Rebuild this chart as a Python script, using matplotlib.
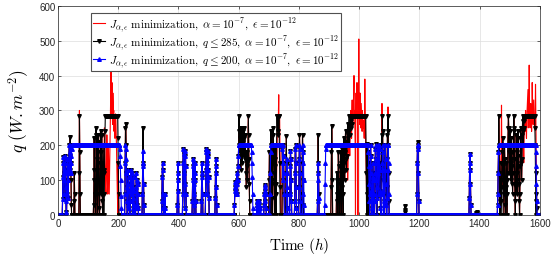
import numpy as np
import matplotlib
matplotlib.use("Agg")
import matplotlib.pyplot as plt

plt.rcParams['mathtext.fontset'] = 'cm'
plt.rcParams['font.family'] = ['Liberation Sans', 'DejaVu Sans']

# hourly time axis
hours = np.arange(0, 1601)

# spikes shared by all three solutions: (start hour, hourly values)
common_bursts = [
    (345, [40, 110, 150, 130, 60, 20, 0, 0, 0, 0, 60, 20]),
    (396, [30, 100, 150, 120, 70]),
    (414, [60, 150, 190, 175, 120, 60, 20, 90, 170, 185, 140, 60]),
    (446, [40, 100, 160, 140, 90, 30, 0, 60, 120, 150, 100, 40]),
    (476, [40, 110, 150, 120, 60]),
    (490, [60, 130, 180, 190, 150, 100, 60, 130, 185, 170, 110, 50]),
    (522, [50, 120, 160, 140, 80, 30]),
    (660, [20, 40, 30, 10, 40, 35, 15, 0, 30, 40, 20]),
    (684, [30, 60, 85, 70, 40, 80, 60, 20]),
    (770, [60, 140, 185, 160, 100, 40]),
    (862, [40, 100, 150, 120, 50]),
    (1366, [50, 130, 176, 150, 90, 30]),
]

# q <= 200 solution
blue_plateaus = [(48, 204, 200), (601, 642, 200), (707, 744, 200),
                 (890, 1030, 200), (1465, 1586, 200)]
blue_bursts = [
    (14, [0, 45, 110, 150, 165, 120, 60, 100, 150, 170, 130, 80, 40, 10, 0, 60, 120,
          160, 140, 100, 50, 120, 160, 200, 170, 130, 180, 200, 150, 120, 170, 200, 190, 200]),
    (205, [190, 170, 140, 100, 55, 20, 0]),
    (222, [60, 150, 200, 190, 160, 120, 80, 40, 0, 30, 90, 130, 110, 70, 20]),
    (240, [40, 100, 130, 90, 60, 120, 80, 40, 10, 0, 50, 110, 70, 30]),
    (258, [20, 80, 120, 100, 60, 30, 90, 60, 20, 0]),
    (280, [60, 140, 185, 150, 90, 30]),
    (586, [30, 70, 95, 80, 60, 90, 70, 100, 120, 90, 60, 100, 140, 170, 200]),
    (643, [180, 150, 110, 60, 20, 0]),
    (704, [60, 120, 180]),
    (745, [190, 150, 100, 200, 170, 120, 60, 0]),
    (758, [0, 80, 160, 120, 60, 20]),
    (786, [40, 120, 190, 200, 150, 80, 20]),
    (800, [80, 160, 200, 190, 120, 40]),
    (812, [60, 150, 200, 180, 100, 30]),
    (886, [30, 90, 150, 190]),
    (1031, [180, 140, 90, 40, 0, 60, 140, 200, 170, 120, 70, 20, 0, 50, 110, 150, 100, 60]),
    (1052, [40, 120, 190, 200, 160, 100, 50, 0, 80, 150, 200, 180, 120, 60, 140, 200,
            190, 130, 70, 20]),
    (1076, [60, 150, 200, 180, 130, 70, 30, 0, 40, 130, 200, 200, 160, 90, 30]),
    (1094, [50, 130, 200, 200, 150, 60]),
    (1192, [60, 150, 200, 200, 190, 120, 40]),
    (1460, [30, 60, 120, 180, 200]),
    (1587, [180, 140, 90, 40, 0]),
]

# q <= 285 solution
black_plateaus = [(157, 198, 285), (978, 1022, 285), (1550, 1583, 285)]
black_bursts = [
    (14, [0, 45, 110, 150, 165, 120, 60, 100, 150, 170, 130, 80, 40, 10, 0, 60, 120,
          160, 140, 100, 50, 120, 160, 200, 170, 130, 225, 200, 150, 100, 30, 0]),
    (52, [0, 40, 120, 60, 0]),
    (70, [120, 285, 180, 60, 0]),
    (118, [30, 100, 220, 130, 60, 0, 0, 0, 250, 230, 160, 60, 0, 0, 210, 230, 180,
           100, 20, 0, 0, 150, 200, 240, 130]),
    (143, [60, 180, 230, 150, 40, 0, 0, 200, 130, 60, 0, 120, 200, 240]),
    (199, [220, 150, 60, 0]),
    (222, [60, 150, 250, 260, 200, 120, 80, 40, 0, 30, 90, 130, 110, 70, 20]),
    (240, [40, 100, 130, 90, 60, 120, 80, 40, 10, 0, 50, 110, 70, 30]),
    (258, [20, 80, 120, 100, 60, 30, 90, 60, 20, 0]),
    (280, [60, 140, 250, 150, 90, 30]),
    (586, [30, 70, 95, 80, 60, 90, 70, 100, 120, 90, 60, 100, 140, 170, 200, 285, 240,
           200, 250, 180, 220, 130, 200, 250, 230, 180, 150, 200, 240, 210, 170, 220, 250,
           200, 230, 160, 200, 180, 120, 80, 140, 180, 150, 100, 160, 200, 285, 230, 160,
           90, 40, 0]),
    (700, [0, 100, 180, 120, 60, 0, 150, 240, 200, 150, 90, 0, 120, 200, 250, 230, 180,
           100, 50, 0, 140, 200, 160, 90, 0, 60, 200, 285, 285, 240, 285, 285, 230, 285,
           285, 200, 150, 80, 0]),
    (745, [190, 150, 100, 200, 170, 120, 60, 0]),
    (756, [0, 120, 227, 150, 60, 20]),
    (786, [40, 120, 190, 200, 150, 80, 20]),
    (800, [80, 160, 230, 190, 120, 40]),
    (810, [60, 150, 230, 180, 100, 30]),
    (862, [40, 120, 230, 150, 60]),
    (906, [0, 80, 180, 255, 200, 100, 0]),
    (924, [0, 60, 120, 100, 40, 0, 90, 180, 140, 60, 0]),
    (936, [0, 100, 180, 150, 60, 0, 80, 190, 170, 120, 60, 0, 120, 220, 190, 150, 100,
           180, 210, 240, 200, 160, 130, 170, 200, 240, 260, 230, 200, 250, 285, 240, 200,
           230, 260, 285, 250, 270, 285, 280, 285, 260]),
    (1023, [200, 120, 0, 60, 205, 150, 80, 0]),
    (1031, [180, 140, 90, 40, 0, 60, 140, 200, 170, 120, 70, 20, 0, 50, 110, 150, 100, 60]),
    (1052, [40, 120, 190, 205, 160, 100, 50, 0, 80, 150, 200, 180, 120, 60, 140, 200, 190,
            130, 70, 20, 0, 60, 150, 230, 200, 285, 240, 180, 150, 100, 60, 0, 40, 130,
            200, 200, 160, 90, 30, 0, 80, 160, 230, 240, 285, 200, 120, 40]),
    (1150, [0, 10, 25, 15, 0]),
    (1192, [60, 150, 210, 200, 190, 120, 40]),
    (1388, [0, 5, 10, 5, 0]),
    (1460, [30, 60, 120, 180, 285, 200, 120, 60, 0, 40, 100, 150, 100, 40, 0, 80, 180,
            220, 200, 140, 60, 0, 100, 200, 160, 90, 30, 0, 80, 150, 100, 60, 0, 120, 200,
            250, 285, 250, 180, 120, 200, 240, 200, 150, 100, 160, 220, 180, 140, 90, 60,
            120, 180, 250, 285, 240, 160, 90, 40, 0, 80, 160, 230, 180, 120, 60, 100, 170,
            240, 200, 140, 90, 40, 0, 60, 140, 220, 250, 200, 150, 100, 160, 230, 270, 285,
            240, 200, 250, 285, 270]),
    (1584, [250, 200, 120, 40, 0, 60, 20, 0]),
]

# unconstrained solution: where it departs from the q <= 285 one
red_bursts = [
    (70, [120, 300, 180, 60, 0]),
    (150, [0, 60, 140, 200, 250, 230, 180, 120, 80, 60, 100, 150, 230, 180, 100, 60, 120,
           200, 150, 90, 60, 120, 200, 260, 300, 350, 410, 330, 280, 380, 300, 260, 350,
           320, 290, 300, 240, 280, 260, 220, 250, 290, 270, 240, 200, 150, 100, 60, 30, 0]),
    (726, [120, 200, 250, 285, 285, 240, 285, 345, 230, 285, 285, 200, 150, 80, 0]),
    (962, [100, 150, 200, 180, 220, 250, 200, 170, 230, 260, 300, 280, 250, 220, 300, 330,
           280, 260, 300, 320, 350, 400, 280, 300, 250, 200, 0, 300, 350, 280, 330, 380,
           300, 250, 0, 280, 300, 505, 300, 280, 260, 350, 300, 250, 280, 320, 290, 260,
           240, 300, 280, 260, 250, 270, 240, 220, 280, 390, 300, 250, 200, 150, 100, 60,
           205, 150, 80, 0]),
    (1075, [200, 320, 240]),
    (1095, [240, 310, 200, 120, 40]),
    (1472, [180, 315, 200]),
    (1546, [200, 150, 220, 260, 250, 240, 280, 300, 260, 240, 220, 280, 300, 320, 340,
            360, 250, 300, 280, 430, 300, 280, 250, 300, 320, 290, 260, 240, 290, 380, 320,
            280, 260, 300, 330, 290, 260, 250, 270, 290, 375, 300, 200, 120, 40, 0]),
]


def build(layers):
    q = np.zeros(len(hours))
    for kind, items in layers:
        if kind == 'plateau':
            for a, b, level in items:
                q[a:b + 1] = level
        else:
            for start, vals in items:
                q[start:start + len(vals)] = vals
    return q


q_blue = build([('burst', common_bursts), ('plateau', blue_plateaus), ('burst', blue_bursts)])
q_black = build([('burst', common_bursts), ('plateau', black_plateaus), ('burst', black_bursts)])
q_red = build([('burst', common_bursts), ('burst', black_bursts), ('burst', red_bursts)])

labels = [
    r'$J_{\alpha,\epsilon}\ \mathrm{minimization},\ \alpha=10^{-7},\ \epsilon=10^{-12}$',
    r'$J_{\alpha,\epsilon}\ \mathrm{minimization},\ q\leq 285,\ \alpha=10^{-7},\ \epsilon=10^{-12}$',
    r'$J_{\alpha,\epsilon}\ \mathrm{minimization},\ q\leq 200,\ \alpha=10^{-7},\ \epsilon=10^{-12}$',
]

fig = plt.figure(figsize=(5.53, 2.55), dpi=100)
ax = fig.add_axes([0.105, 0.153, 0.871, 0.82])

ax.plot(hours, q_red, color='#ff0000', lw=0.8, label=labels[0])
ax.plot(hours, q_black, color='black', lw=0.8, marker='v', ms=2.6, label=labels[1])
ax.plot(hours, q_blue, color='#0000ff', lw=0.8, marker='^', ms=2.6, label=labels[2])

ax.set_xlim(0, 1600)
ax.set_ylim(0, 600)
ax.set_xticks(np.arange(0, 1601, 200))
ax.set_yticks(np.arange(0, 601, 100))
ax.grid(True, color='#dddddd', lw=0.5)
ax.set_axisbelow(True)
ax.tick_params(direction='in', length=2.5, width=0.5, labelsize=7, colors='#262626',
               top=True, right=True, pad=2)
for s in ax.spines.values():
    s.set_linewidth(0.5)
    s.set_color('#262626')

ax.set_xlabel(r'$\mathrm{Time}\ (h)$', fontsize=11, labelpad=5)
ax.set_ylabel(r'$q\ (W.m^{-2})$', fontsize=12.5, labelpad=6)

leg = ax.legend(loc='upper left', bbox_to_anchor=(0.068, 0.968), fontsize=8,
                fancybox=False, edgecolor='#505050', framealpha=1, borderpad=0.2,
                labelspacing=0.0, handlelength=1.1, handletextpad=0.3, borderaxespad=0)
leg.get_frame().set_linewidth(0.8)

fig.savefig('out.png', dpi=100)
